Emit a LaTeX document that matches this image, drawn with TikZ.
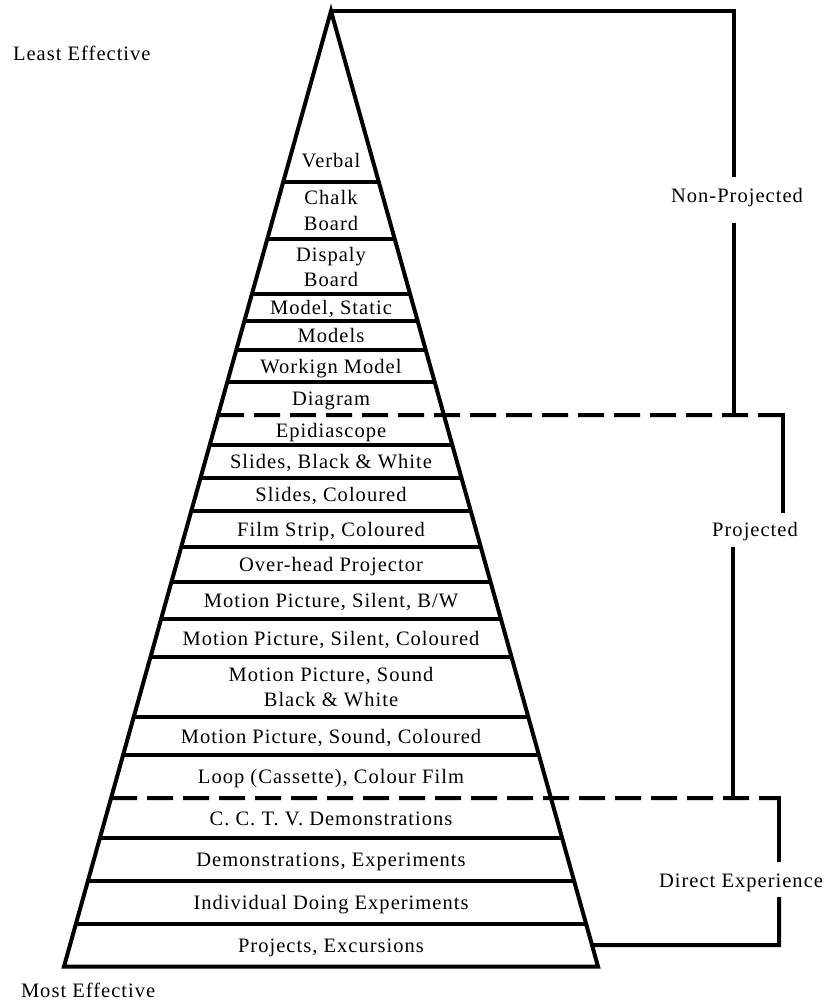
\documentclass[tikz,border=0pt]{standalone}
\usepackage{fontspec}
\setmainfont{Liberation Serif}[LetterSpace=5]
\usetikzlibrary{calc}
\begin{document}
\begin{tikzpicture}[x=1pt,y=-1pt,line width=4pt,
  dashrule/.style={line width=4pt,dash pattern=on 26pt off 10pt},
  cell/.style={anchor=base,align=center,inner sep=0pt,font=\fontsize{20.5}{25}\selectfont},
  lab/.style={anchor=base,inner sep=0pt,font=\fontsize{20.5}{25}\selectfont}]
\useasboundingbox (0,0) rectangle (835,1000);
\fill[white] (0,0) rectangle (835,1000);
% pyramid
\coordinate (apex) at (331,11);
\coordinate (bl) at (64,966.5);
\coordinate (br) at (598,966.5);
\draw[line join=miter] (bl) -- (apex) -- (br) -- cycle;
\foreach \y in {182,239,294,321,350,382,445,478,511,547,582,619,657,717,755,838,881,924}
  \draw ($(apex)!{(\y-11)/955.5}!(bl)$) -- ($(apex)!{(\y-11)/955.5}!(br)$);
% dashed group borders
\coordinate (dA) at ($(apex)!{(415-11)/955.5}!(bl)$);
\coordinate (dB) at ($(apex)!{(798-11)/955.5}!(bl)$);
\coordinate (pA) at (783,415);
\coordinate (pB) at (779,798);
\draw[dashrule] (dA) -- (pA);
\draw[dashrule] (dB) -- (pB);
% cell texts
\node[cell] (c1) at (331,168) {Verbal};
\node[cell] (c2) at (331,230) {Chalk\\Board};
\node[cell] (c3) at (331,286) {Dispaly\\Board};
\node[cell] (c4) at (331,314.5) {Model, Static};
\node[cell] (c5) at (331,342.5) {Models};
\node[cell] (c6) at (331,373) {Workign Model};
\node[cell] (c7) at (331,405.5) {Diagram};
\node[cell] (c8) at (331,437) {Epidiascope};
\node[cell] (c9) at (331,468.5) {Slides, Black \& White};
\node[cell] (c10) at (331,501.5) {Slides, Coloured};
\node[cell] (c11) at (331,536) {Film Strip, Coloured};
\node[cell] (c12) at (331,571.5) {Over-head Projector};
\node[cell] (c13) at (331,607.5) {Motion Picture, Silent, B/W};
\node[cell] (c14) at (331,645) {Motion Picture, Silent, Coloured};
\node[cell] (c15) at (331,706.5) {Motion Picture, Sound\\Black \& White};
\node[cell] (c16) at (331,743) {Motion Picture, Sound, Coloured};
\node[cell] (c17) at (331,783.5) {Loop (Cassette), Colour Film};
\node[cell] (c18) at (331,825) {C. C. T. V. Demonstrations};
\node[cell] (c19) at (331,866.5) {Demonstrations, Experiments};
\node[cell] (c20) at (331,909.5) {Individual Doing Experiments};
\node[cell] (c21) at (331,952.5) {Projects, Excursions};
% side labels
\node[lab,anchor=base west] (least) at (11,61) {Least Effective};
\node[lab,anchor=base west] (most) at (19,997) {Most Effective};
\node[lab] (np) at (737,203) {Non-Projected};
\node[lab] (pr) at (755,536) {Projected};
\node[lab] (de) at (741,887) {Direct Experience};
% brackets
\coordinate (n1) at (734,11);
\coordinate (n2) at (734,177);
\coordinate (n3) at (734,223);
\coordinate (n4) at (734,415);
\draw[line join=miter] (apex) -- (n1) -- (n2);
\draw (n3) -- (n4);
\coordinate (p2) at (783,513);
\coordinate (p3) at (733,547);
\coordinate (p4) at (733,798);
\draw ($(pA)+(0,-2)$) -- (p2);
\draw (p3) -- (p4);
\coordinate (e2) at (779,862);
\coordinate (e3) at (779,897);
\coordinate (e4) at (779,945);
\coordinate (e5) at ($(apex)!{(945-11)/955.5}!(br)$);
\draw ($(pB)+(0,-2)$) -- (e2);
\draw[line join=miter] (e3) -- (e4) -- (e5);
\end{tikzpicture}
\end{document}
